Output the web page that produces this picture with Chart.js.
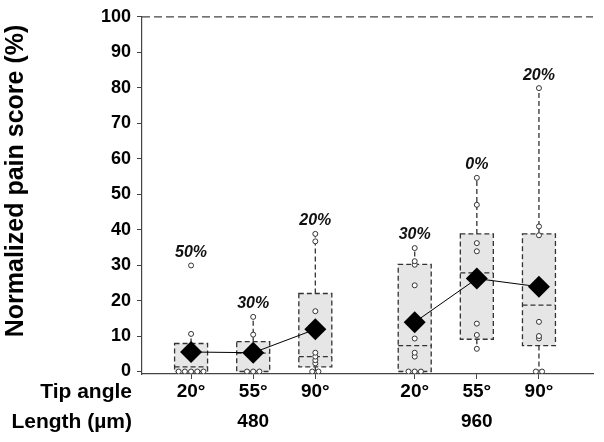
<!DOCTYPE html>
<html>
<head>
<meta charset="utf-8">
<script src="https://cdn.jsdelivr.net/npm/chart.js@4.4.0/dist/chart.umd.min.js"></script>
<style>
  html, body { margin: 0; padding: 0; background: #fff; }
  #wrap { width: 604px; height: 442px; }
</style>
</head>
<body>
<div id="wrap"><canvas id="painChart" width="604" height="442"></canvas></div>
<script>
// Data (n = 10 per needle type)
const tipAngles = ['20°', '55°', '90°', '20°', '55°', '90°'];
const lengthGroups = ['480', '960'];
const groupOf = [0, 0, 0, 1, 1, 1];
const zeroShare = ['50%', '30%', '20%', '30%', '0%', '20%'];
const means = [5.5, 5.3, 11.9, 13.9, 26.2, 23.9];
const q1 = [0, 0, 1.3, 0, 9.1, 7.3];
const medians = [1.3, 5.2, 4.2, 7.3, 27.8, 18.7];
const q3 = [7.9, 8.4, 22.0, 30.2, 38.8, 38.8];
const whiskerLow = [0, 0, 0, 0, 6.4, 0];
const whiskerHigh = [10.6, 15.4, 38.8, 34.8, 54.6, 79.9];
const scores = [
    [0, 0, 0, 0, 0, 10.6, 29.9],
    [0, 0, 0, 10.4, 15.4],
    [0, 0, 2.3, 3.2, 4.2, 5.3, 17.0, 36.7, 38.8],
    [0, 0, 0, 4.2, 5.3, 9.3, 24.3, 30.1, 31.1, 34.8],
    [6.4, 10.3, 13.5, 33.9, 36.2, 47.0, 54.6],
    [0, 0, 9.3, 10.0, 14.0, 38.4, 40.9, 79.9]
];
const yTicks = [0, 10, 20, 30, 40, 50, 60, 70, 80, 90, 100];

const FONT = "'Liberation Sans', Arial, sans-serif";
const xPos = tipAngles.map((_, i) => i + groupOf[i] * 0.6);
const tickLen = 5, xPad = -2, xLine = 30;

// spread identical values sideways so they don't overlap
const pointData = [];
scores.forEach((vals, i) => {
    const counts = {};
    vals.forEach(v => counts[v] = (counts[v] || 0) + 1);
    const seen = {};
    vals.forEach(v => {
        const k = seen[v] = (seen[v] || 0) + 1;
        pointData.push({ x: xPos[i] + (k - 1 - (counts[v] - 1) / 2) * 0.1, y: v });
    });
});

const boxPlugin = {
    id: 'boxes',
    beforeDatasetsDraw(chart) {
        const { ctx, scales: { x, y } } = chart;
        const half = 16.5;
        ctx.save();
        ctx.strokeStyle = '#333';
        ctx.lineWidth = 1.3;
        ctx.setLineDash([5, 3]);
        xPos.forEach((p, i) => {
            const cx = x.getPixelForValue(p);
            const top = y.getPixelForValue(q3[i]);
            const bot = y.getPixelForValue(q1[i]);
            ctx.beginPath();
            ctx.moveTo(cx, top); ctx.lineTo(cx, y.getPixelForValue(whiskerHigh[i]));
            ctx.moveTo(cx, bot); ctx.lineTo(cx, y.getPixelForValue(whiskerLow[i]));
            ctx.stroke();
            ctx.fillStyle = '#e6e6e6';
            ctx.fillRect(cx - half, top, half * 2, bot - top);
            ctx.strokeRect(cx - half, top, half * 2, bot - top);
            const my = y.getPixelForValue(medians[i]);
            ctx.beginPath();
            ctx.moveTo(cx - half, my); ctx.lineTo(cx + half, my);
            ctx.stroke();
        });
        // dashed line at 100
        ctx.strokeStyle = '#444';
        ctx.setLineDash([8, 4]);
        ctx.beginPath();
        ctx.moveTo(chart.chartArea.left, y.getPixelForValue(100));
        ctx.lineTo(chart.chartArea.right, y.getPixelForValue(100));
        ctx.stroke();
        ctx.restore();
    },
    afterDatasetsDraw(chart) {
        const { ctx, scales: { x, y } } = chart;
        ctx.save();
        ctx.fillStyle = '#111';
        ctx.font = `italic bold 16px ${FONT}`;
        ctx.textAlign = 'center';
        ctx.textBaseline = 'middle';
        xPos.forEach((p, i) => {
            const topVal = Math.max(whiskerHigh[i], ...scores[i]);
            ctx.fillText(zeroShare[i], x.getPixelForValue(p), y.getPixelForValue(topVal) - 13);
        });
        // row titles beside the x tick labels
        ctx.fillStyle = '#000';
        ctx.font = `bold 21px ${FONT}`;
        ctx.textAlign = 'right';
        const y0 = x.top + tickLen + xPad + xLine / 2;
        ctx.fillText('Tip angle', 132, y0);
        ctx.fillText('Length (\u00b5m)', 132, y0 + xLine);
        // y axis title
        ctx.translate(16, 181);
        ctx.rotate(-Math.PI / 2);
        ctx.textAlign = 'center';
        ctx.font = `bold 25px ${FONT}`;
        ctx.fillText('Normalized pain score (%)', 0, 0);
        ctx.restore();
    }
};

const meanSets = lengthGroups.map((g, gi) => ({
    type: 'line',
    data: xPos.map((p, i) => ({ x: p, y: means[i] })).filter((_, i) => groupOf[i] === gi),
    borderColor: '#000',
    borderWidth: 1,
    backgroundColor: '#000',
    pointStyle: 'rectRot',
    pointRadius: 11,
    pointBorderWidth: 0
}));

new Chart(document.getElementById('painChart'), {
    type: 'scatter',
    data: {
        datasets: [
            ...meanSets,
            {
                type: 'scatter',
                data: pointData,
                pointRadius: 2.5,
                pointBorderWidth: 1,
                borderColor: '#333',
                backgroundColor: '#fff'
            }
        ]
    },
    options: {
        responsive: false,
        animation: false,
        layout: { padding: { top: 16, right: 4, left: 0, bottom: 0 } },
        plugins: { legend: { display: false }, tooltip: { enabled: false } },
        scales: {
            x: {
                type: 'linear',
                min: -0.79,
                max: 6.47,
                afterFit: s => { s.height = 68; },
                afterBuildTicks: s => { s.ticks = xPos.map(v => ({ value: v })); },
                border: { color: '#444', width: 1.2 },
                grid: { drawOnChartArea: false, tickLength: tickLen, color: '#444' },
                ticks: {
                    autoSkip: false,
                    maxRotation: 0,
                    padding: xPad,
                    color: '#000',
                    font: { family: FONT, size: 19, weight: 'bold', lineHeight: xLine / 19 },
                    callback: (v, i) => [tipAngles[i], i % 3 === 1 ? lengthGroups[groupOf[i]] : '']
                }
            },
            y: {
                min: -0.7,
                max: 100,
                afterFit: s => { s.width = 142; },
                afterBuildTicks: s => { s.ticks = yTicks.map(v => ({ value: v })); },
                border: { color: '#444', width: 1.2 },
                grid: { drawOnChartArea: false, tickLength: tickLen, color: '#444' },
                ticks: {
                    padding: 6,
                    color: '#000',
                    font: { family: FONT, size: 18, weight: 'bold' }
                }
            }
        }
    },
    plugins: [boxPlugin]
});
</script>
</body>
</html>
